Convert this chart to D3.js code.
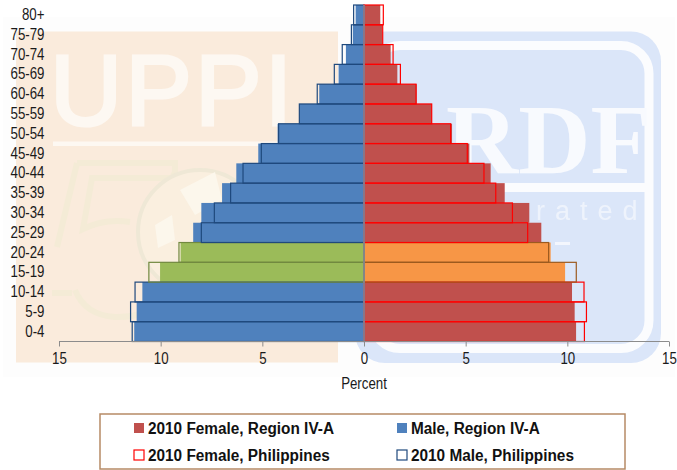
<!DOCTYPE html>
<html><head><meta charset="utf-8">
<script src="https://cdnjs.cloudflare.com/ajax/libs/d3/7.8.5/d3.min.js"></script>
<style>html,body{margin:0;padding:0;background:#fff}svg{display:block}text{font-family:"Liberation Sans",Arial,sans-serif}</style>
</head><body><svg id="c" width="677" height="470"></svg>
<script>
const ageGroups=["0-4","5-9","10-14","15-19","20-24","25-29","30-34","35-39","40-44","45-49","50-54","55-59","60-64","65-69","70-74","75-79","80+"];
const maleRegion=[11.3,11.18,10.9,10.03,9.02,8.4,8.0,6.98,6.28,5.2,4.25,3.18,2.2,1.25,0.89,0.55,0.41];
const malePhil=[11.4,11.48,11.26,10.58,9.1,8.0,7.36,6.56,5.95,5.05,4.2,3.18,2.3,1.46,1.07,0.62,0.51];
const femaleRegion=[10.43,10.36,10.23,9.89,9.18,8.72,8.13,6.92,6.23,5.18,4.33,3.33,2.59,1.64,1.31,0.89,0.8];
const femalePhil=[10.84,10.94,10.82,10.44,9.08,8.05,7.3,6.48,5.9,5.08,4.26,3.33,2.56,1.79,1.43,0.92,0.95];
const highlighted=["15-19","20-24"];
const xTicks=[-15,-10,-5,0,5,10,15];
const legendItems=[["2010 Female, Region IV-A","#c0504d",null],["Male, Region IV-A","#4f81bd",null],["2010 Female, Philippines","#fff","#ff0000"],["2010 Male, Philippines","#fff","#1f497d"]];

const svg=d3.select("#c");
const x=d3.scaleLinear().domain([-15,15]).range([59,669]);
const y=d3.scaleBand().domain(ageGroups).range([341.5,5]).paddingInner(0);
const g0=x(0);
const narrowScale="scale(0.83,1)";

// watermark background
const defs=svg.append("defs");
defs.append("filter").attr("id","soft").append("feGaussianBlur").attr("stdDeviation",0.7);
const bg=svg.append("g").attr("filter","url(#soft)");
bg.append("rect").attr("x",3).attr("y",17).attr("width",672).attr("height",360).attr("fill","#fdfdfd");
bg.append("rect").attr("x",16).attr("y",31.5).attr("width",322).attr("height",331).attr("fill","#faebdc");
bg.append("rect").attr("x",355).attr("y",31.5).attr("width",306).attr("height",331.5).attr("rx",30).attr("fill","#dbe6f9");
bg.append("rect").attr("x",372).attr("y",45.5).attr("width",277).attr("height",303).attr("rx",28).attr("fill","none").attr("stroke","#fbfcfe").attr("stroke-width",9);
bg.append("rect").attr("x",440).attr("y",183).attr("width",207).attr("height",9).attr("fill","#fbfcfe");
bg.append("rect").attr("x",555).attr("y",242).attr("width",15).attr("height",3).attr("fill","#f3f6fd");
bg.append("text").attr("x",50).attr("y",125).attr("font-size",100).attr("letter-spacing",3).attr("fill","#fdf8f2").attr("stroke","#fdf8f2").attr("stroke-width",3).text("UPPI");
bg.append("rect").attr("x",53).attr("y",141.5).attr("width",285).attr("height",4.5).attr("fill","#fdf8f2");
bg.append("text").attr("x",446).attr("y",173).attr("font-size",100).attr("font-weight","bold").style("font-family","Liberation Serif").attr("fill","#f8fafe").text("RDF");
bg.append("text").attr("x",536).attr("y",220).attr("font-size",27).attr("letter-spacing",10).attr("fill","#eef3fc").text("rated");
// the "50" emblem, drawn as decoration
bg.append("path").attr("d","M77 163H175V172L172 178H92L83 229Q105 218 130 222M57 247L77 163M52 293H72M75 290Q85 315 115 317Q150 318 165 295")
  .attr("fill","none").attr("stroke","#f4ebd6").attr("stroke-width",6);
bg.append("circle").attr("cx",200).attr("cy",232).attr("r",62).attr("fill","#faefdf").attr("stroke","#efe8d6").attr("stroke-width",4);
bg.append("path").attr("d","M180 190L215 172L222 200L195 215ZM155 225L172 215L175 240L158 248ZM215 215L240 205L240 240L218 250Z").attr("fill","#fcf7ec");

// bars
const fillM=a=>highlighted.includes(a)?"#9bbb59":"#4f81bd";
const fillF=a=>highlighted.includes(a)?"#f79646":"#c0504d";
const lineM=a=>highlighted.includes(a)?"#71893f":"#1f497d";
const lineF=a=>highlighted.includes(a)?"#9c5a1f":"#ff0000";
const bars=(vals,side,fill,stroke,cls)=>svg.append("g").attr("class",cls).selectAll("rect").data(ageGroups).join("rect")
  .attr("x",(a,i)=>side<0?x(-vals[i]):g0).attr("y",a=>y(a))
  .attr("width",(a,i)=>Math.abs(x(side*vals[i])-g0)).attr("height",y.bandwidth())
  .attr("fill",fill).attr("stroke",stroke).attr("stroke-width",stroke==="none"?0:1.2);
bars(maleRegion,-1,fillM,"none","mr");
bars(femaleRegion,1,fillF,"none","fr");
bars(malePhil,-1,"none",lineM,"mp");
bars(femalePhil,1,"none",lineF,"fp");

// axes
const xa=d3.axisBottom(x).tickValues(xTicks).tickFormat(d=>Math.abs(d)).tickSize(5).tickPadding(6);
const ax=svg.append("g").attr("transform","translate(0,341.5)").call(xa);
ax.select(".domain").attr("stroke","#8c8c8c").attr("stroke-width",1).attr("d",`M${x.range()[0]},0H${x.range()[1]}`);
ax.selectAll(".tick line").attr("stroke","#8c8c8c");
ax.selectAll("text").attr("font-size",16).attr("fill","#1a1a1a").attr("transform",narrowScale);
svg.append("line").attr("x1",g0).attr("x2",g0).attr("y1",y.range()[1]).attr("y2",y.range()[0]).attr("stroke","#7f8c9c").attr("stroke-width",1.6);
const ya=d3.axisLeft(y).tickSize(0).tickPadding(0);
const ay=svg.append("g").attr("transform","translate(44.5,0)").call(ya);
ay.select(".domain").remove();
ay.selectAll("text").attr("font-size",16).attr("fill","#1a1a1a").attr("transform",narrowScale);
svg.append("text").attr("transform",`translate(364,389) ${narrowScale}`).attr("text-anchor","middle").attr("font-size",16).attr("fill","#1a1a1a").text("Percent");

// legend
svg.append("rect").attr("x",100).attr("y",414).attr("width",525).attr("height",55).attr("fill","#fff").attr("stroke","#b68a66").attr("stroke-width",1.5);
const lx=d3.scaleOrdinal().domain([0,1]).range([134,397]);
const ly=d3.scaleOrdinal().domain([0,1]).range([428,455]);
const li=svg.append("g").selectAll("g").data(legendItems).join("g").attr("transform",(d,i)=>`translate(${lx(i%2)},${ly(Math.floor(i/2))})`);
li.append("rect").attr("x",0).attr("y",-5).attr("width",10).attr("height",10).attr("fill",d=>d[1]).attr("stroke",d=>d[2]||"none").attr("stroke-width",1.2);
li.append("text").attr("transform","translate(14,6) scale(0.96,1)").attr("font-size",16).attr("font-weight","bold").attr("fill","#111").text(d=>d[0]);
</script></body></html>
